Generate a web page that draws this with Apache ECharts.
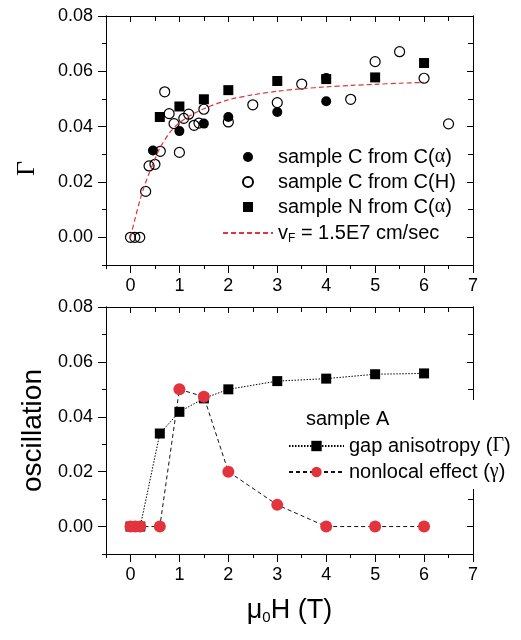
<!DOCTYPE html>
<html><head><meta charset="utf-8">
<script src="https://cdn.jsdelivr.net/npm/echarts@6/dist/echarts.min.js"></script>
<style>html,body{margin:0;padding:0;background:#fff}#c{width:521px;height:640px}</style>
</head><body><div id="c"></div>
<script>
// ---------- data ----------
// Top panel
const cAlphaX = [0.46, 1.0, 1.5, 2.0, 3.0, 4.0, 4.0];
const cAlphaY = [0.0314, 0.0384, 0.0411, 0.0435, 0.0453, 0.0576, 0.0492];
const cHX = [0, 0.09, 0.19, 0.31, 0.38, 0.5, 0.61, 0.7, 0.79, 0.89, 1.0, 1.09, 1.19, 1.3, 1.4, 1.5, 2.0, 2.5, 3.0, 3.5, 4.5, 5.0, 5.5, 6.0, 6.5];
const cHY = [0, 0, 0, 0.0166, 0.0258, 0.0264, 0.0311, 0.0526, 0.0447, 0.0411, 0.0307, 0.0430, 0.0445, 0.0405, 0.0413, 0.0463, 0.0417, 0.0479, 0.0487, 0.0554, 0.0499, 0.0635, 0.0671, 0.0575, 0.0410];
const nAlphaX = [0.6, 1.0, 1.5, 2.0, 3.0, 4.0, 5.0, 6.0];
const nAlphaY = [0.0435, 0.0473, 0.0499, 0.0532, 0.0565, 0.0572, 0.0578, 0.0630];
const fitX = [0, 0.1, 0.2, 0.3, 0.4, 0.5, 0.6, 0.8, 1.0, 1.25, 1.5, 2.0, 2.5, 3.0, 3.5, 4.0, 4.5, 5.0, 5.5, 6.0];
const fitY = [0, 0.0072, 0.0138, 0.0193, 0.0240, 0.0283, 0.0322, 0.0378, 0.0414, 0.0443, 0.0465, 0.0497, 0.0515, 0.0528, 0.0537, 0.0544, 0.0549, 0.0553, 0.0557, 0.0560];
// Bottom panel
const gapX = [0, 0.1, 0.2, 0.6, 1.0, 1.5, 2.0, 3.0, 4.0, 5.0, 6.0];
const gapY = [0, 0, 0, 0.0339, 0.0418, 0.0467, 0.0500, 0.0530, 0.0539, 0.0555, 0.0558];
const nonlocX = [0, 0.1, 0.2, 0.6, 1.0, 1.5, 2.0, 3.0, 4.0, 5.0, 6.0];
const nonlocY = [0, 0, 0, 0, 0.0500, 0.0473, 0.0200, 0.0079, 0, 0, 0];
// Ticks
const xMajor = [0, 1, 2, 3, 4, 5, 6, 7];
const xMinor = [-0.5, 0.5, 1.5, 2.5, 3.5, 4.5, 5.5, 6.5];
const yMajor = [0, 0.02, 0.04, 0.06, 0.08];
const yMinor = [-0.01, 0.01, 0.03, 0.05, 0.07];
const xRange = [-0.5, 7];
const yRange = [-0.01, 0.08];

const zip = (xs, ys) => xs.map((x, i) => [x, ys[i]]);

// ---------- layout ----------
const GT = {left: 106, top: 16, width: 367, height: 249};
const GB = {left: 106, top: 307, width: 367, height: 247};
const RED = '#e3333c';
const FONT = 'Liberation Sans, Arial, sans-serif';
const SERIF = 'Liberation Serif, Times New Roman, serif';
const SQUARE = 'path://M0 0H10V10H0Z';

function xAx(grid, pos, ticks, len, inside, labels, extra) {
  return Object.assign({
    type: 'value', gridIndex: grid, position: pos, min: xRange[0], max: xRange[1],
    axisLine: {show: true, onZero: false, lineStyle: {color: '#000', width: 1}},
    axisTick: {show: true, inside: inside, length: len, customValues: ticks, lineStyle: {color: '#000', width: 1}},
    axisLabel: labels ? {show: true, customValues: xMajor, margin: 12, fontSize: 18, color: '#000', fontFamily: FONT} : {show: false},
    splitLine: {show: false}
  }, extra || {});
}
function yAx(grid, pos, ticks, len, inside, labels, extra) {
  return Object.assign({
    type: 'value', gridIndex: grid, position: pos, min: yRange[0], max: yRange[1],
    axisLine: {show: true, onZero: false, lineStyle: {color: '#000', width: 1}},
    axisTick: {show: true, inside: inside, length: len, customValues: ticks, lineStyle: {color: '#000', width: 1}},
    axisLabel: labels ? {show: true, customValues: yMajor, margin: 13, fontSize: 18, color: '#000', fontFamily: FONT,
      formatter: v => v.toFixed(2)} : {show: false},
    splitLine: {show: false}
  }, extra || {});
}

const option = {
  animation: false,
  backgroundColor: '#fff',
  grid: [
    Object.assign({}, GT), Object.assign({}, GT),
    Object.assign({}, GB), Object.assign({}, GB)
  ],
  xAxis: [
    xAx(0, 'bottom', xMajor, 8, false, true),
    xAx(0, 'top', xMajor, 6, true, false),
    xAx(1, 'bottom', xMinor, 4, false, false),
    xAx(1, 'top', xMinor, 5, true, false),
    xAx(2, 'bottom', xMajor, 8, false, true, {
      name: '{a|μ}{s|0}{a|H (T)}', nameLocation: 'middle', nameGap: 42,
      nameTextStyle: {color: '#000', rich: {
        a: {fontSize: 27, fontFamily: FONT, color: '#000'},
        s: {fontSize: 15, fontFamily: FONT, color: '#000', padding: [14, 0, 0, 0]}
      }}
    }),
    xAx(2, 'top', xMajor, 6, true, false),
    xAx(3, 'bottom', xMinor, 4, false, false),
    xAx(3, 'top', xMinor, 5, true, false)
  ],
  yAxis: [
    yAx(0, 'left', yMajor, 8, false, true, {
      name: 'Γ', nameLocation: 'middle', nameGap: 66,
      nameTextStyle: {fontSize: 26, fontFamily: SERIF, color: '#000', padding: [0, 56, 0, 0]}
    }),
    yAx(0, 'right', yMajor, 6, true, false),
    yAx(1, 'left', yMinor, 4, false, false),
    yAx(1, 'right', yMinor, 5, true, false),
    yAx(2, 'left', yMajor, 8, false, true, {
      name: 'oscillation', nameLocation: 'middle', nameGap: 58,
      nameTextStyle: {fontSize: 28, fontFamily: FONT, color: '#000'}
    }),
    yAx(2, 'right', yMajor, 6, true, false),
    yAx(3, 'left', yMinor, 4, false, false),
    yAx(3, 'right', yMinor, 5, true, false)
  ],
  title: {
    text: 'sample A', left: 306, top: 409, padding: 0,
    textStyle: {fontSize: 20, fontWeight: 'normal', fontFamily: FONT, color: '#000'}
  },
  legend: [
    {
      orient: 'vertical', left: 222, top: 146, padding: 0, itemGap: 3,
      itemWidth: 50, itemHeight: 10, selectedMode: false,
      data: [
        {name: 'sample C from C(α)', icon: 'circle'},
        {name: 'sample C from C(H)', icon: 'circle'},
        {name: 'sample N from C(α)', icon: SQUARE},
        {name: 'vF', itemStyle: {color: 'rgba(0,0,0,0)', borderWidth: 0, opacity: 0}}
      ],
      formatter: function (n) {
        if (n === 'vF') return '{t|v}{s|F}{t| = 1.5E7 cm/sec}';
        return n.replace('α', '{g|α}');
      },
      textStyle: {fontSize: 20, fontFamily: FONT, color: '#000', lineHeight: 22, rich: {
        t: {fontSize: 20, fontFamily: FONT, color: '#000', lineHeight: 22},
        s: {fontSize: 12, fontFamily: FONT, color: '#000', lineHeight: 22, padding: [12, 0, 0, 0]},
        g: {fontSize: 20, fontFamily: SERIF, color: '#000', lineHeight: 22}
      }}
    },
    {
      orient: 'vertical', left: 285, top: 400, padding: [35, 8, 6, 3], itemGap: 4,
      itemWidth: 55, itemHeight: 13, selectedMode: false, backgroundColor: '#fff',
      data: ['gap anisotropy (Γ)', 'nonlocal effect (γ)'],
      formatter: function (n) { return n.replace(/([Γγ])/, '{g|$1}'); },
      textStyle: {fontSize: 20, fontFamily: FONT, color: '#000', lineHeight: 22, rich: {
        g: {fontSize: 20, fontFamily: SERIF, color: '#000', lineHeight: 22}
      }}
    }
  ],
  series: [
    {
      name: 'sample C from C(α)', type: 'scatter', xAxisIndex: 0, yAxisIndex: 0,
      symbol: 'circle', symbolSize: 10, itemStyle: {color: '#000', opacity: 1},
      data: zip(cAlphaX, cAlphaY)
    },
    {
      name: 'sample C from C(H)', type: 'scatter', xAxisIndex: 0, yAxisIndex: 0,
      symbol: 'circle', symbolSize: 10,
      itemStyle: {color: 'rgba(255,255,255,0)', borderColor: '#000', borderWidth: 1.2, opacity: 1},
      data: zip(cHX, cHY)
    },
    {
      name: 'sample N from C(α)', type: 'scatter', xAxisIndex: 0, yAxisIndex: 0,
      symbol: 'rect', symbolSize: 10, itemStyle: {color: '#000', opacity: 1},
      data: zip(nAlphaX, nAlphaY)
    },
    {
      name: 'vF', type: 'line', xAxisIndex: 0, yAxisIndex: 0, smooth: 0.3,
      symbol: 'none', lineStyle: {color: RED, width: 1.2, type: [5, 3]}, itemStyle: {color: RED},
      data: zip(fitX, fitY)
    },
    {
      name: 'gap anisotropy (Γ)', type: 'line', xAxisIndex: 4, yAxisIndex: 4,
      symbol: 'rect', symbolSize: 10, showAllSymbol: true,
      itemStyle: {color: '#000'}, lineStyle: {color: '#000', width: 1, type: [1.5, 1.5]},
      data: zip(gapX, gapY)
    },
    {
      name: 'nonlocal effect (γ)', type: 'line', xAxisIndex: 4, yAxisIndex: 4,
      symbol: 'circle', symbolSize: 12, showAllSymbol: true,
      itemStyle: {color: RED}, lineStyle: {color: '#111', width: 1, type: [4, 3]},
      data: zip(nonlocX, nonlocY)
    }
  ]
};
const chart = echarts.init(document.getElementById('c'), null, {renderer: 'canvas'});
chart.setOption(option);
</script></body></html>
